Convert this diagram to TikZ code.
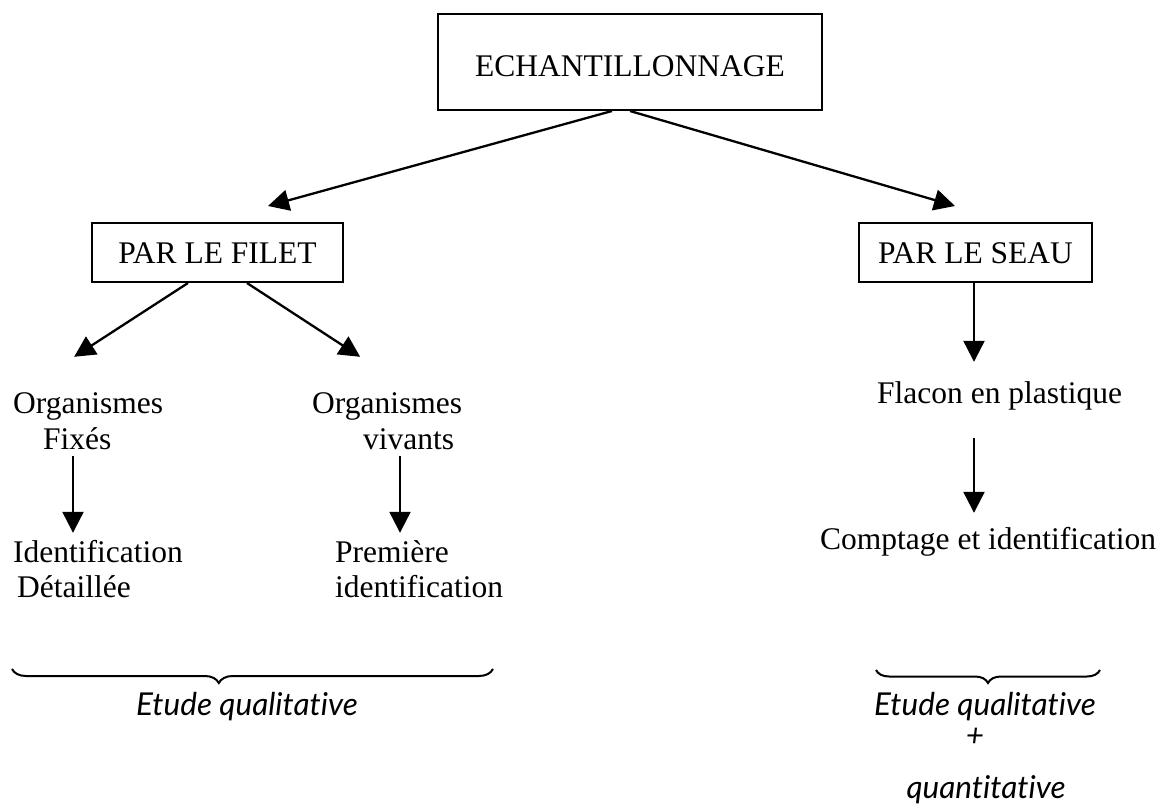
\documentclass[tikz,border=0pt]{standalone}
\usepackage{fontspec}
\setmainfont{Liberation Serif}
\newfontfamily\handfont{Lato}[Ligatures=NoCommon]
\usetikzlibrary{arrows.meta,decorations.pathreplacing}
\begin{document}
\begin{tikzpicture}[x=1pt,y=-1pt,
  boxnode/.style={draw, line width=2pt, inner sep=0pt, font=\fontsize{31.5}{36}\selectfont, text depth=0pt},
  txt/.style={inner sep=0pt, anchor=base west, font=\fontsize{31.5}{36}\selectfont, text height=22pt, text depth=7pt},
  handtxt/.style={inner sep=0pt, anchor=base, font=\handfont\itshape\fontsize{31.5}{36}\selectfont},
  arr/.style={-{Triangle[length=21pt,width=21pt]}, line width=2.3pt},
  bracestyle/.style={decorate, line width=2pt}
]
\useasboundingbox (0,0) rectangle (1163,805);

% boxes
\node[boxnode, minimum width=384pt, minimum height=96pt, text height=30pt] (top) at (630,62) {ECHANTILLONNAGE};
\node[boxnode, minimum width=251pt, minimum height=59pt, text height=23pt] (filet) at (217.5,252.5) {PAR LE FILET};
\node[boxnode, minimum width=233pt, minimum height=59pt, text height=23pt] (seau) at (975.5,252.5) {PAR LE SEAU};

% texts
\node[txt] (org1) at (13,413) {Organismes};
\node[txt] (fix) at (43,449) {Fixés};
\node[txt] (ident) at (13,562) {Identification};
\node[txt] (detail) at (17,597) {Détaillée};
\node[txt] (org2) at (312,413) {Organismes};
\node[txt] (viv) at (363,449) {vivants};
\node[txt] (prem) at (335,562) {Première};
\node[txt] (ident2) at (335,597) {identification};
\node[txt] (flacon) at (877,403) {Flacon en plastique};
\node[txt] (compt) at (820,549) {Comptage et identification};

% arrows from the top box
\draw[arr] ([xshift=-18pt]top.south) -- ([xshift=50.5pt,yshift=16pt]filet.north);
\draw[arr] (top.south) -- ([xshift=-20.5pt,yshift=16pt]seau.north);

% arrows from PAR LE FILET
\draw[arr] ([xshift=-29.5pt]filet.south) -- ([xshift=-14pt,yshift=34pt]org1.north);
\draw[arr] ([xshift=29.5pt]filet.south) -- ([xshift=-27pt,yshift=34pt]org2.north);

% vertical arrows
\coordinate (cx1) at (73,0);
\coordinate (cx2) at (400,0);
\coordinate (cx3) at (974,0);
\draw[arr, shorten >=7pt] (cx1 |- fix.south) -- (cx1 |- ident.north);
\draw[arr, shorten >=7pt] (cx2 |- viv.south) -- (cx2 |- prem.north);
\draw[arr, shorten >=19pt] (cx3 |- seau.south) -- (cx3 |- flacon.north);
\draw[arr, shorten <=28pt, shorten >=14pt] (cx3 |- flacon.south) -- (cx3 |- compt.north);

% braces
\coordinate (b1a) at (12,669);
\coordinate (b1b) at (493,669);
\coordinate (b2a) at (876,670);
\coordinate (b2b) at (1100,670);
\draw[bracestyle, decoration={brace, amplitude=14pt, aspect=0.43, mirror}] (b1a) -- (b1b);
\draw[bracestyle, decoration={brace, amplitude=13pt, aspect=0.5, mirror}] (b2a) -- (b2b);

% bottom labels
\node[handtxt] (q1) at (247,715) {Etude qualitative};
\node[handtxt] (q2) at (985,715) {Etude qualitative};
\node[handtxt] (plus) at (975,746) {+};
\node[handtxt] (q3) at (986,798) {quantitative};
\end{tikzpicture}
\end{document}
